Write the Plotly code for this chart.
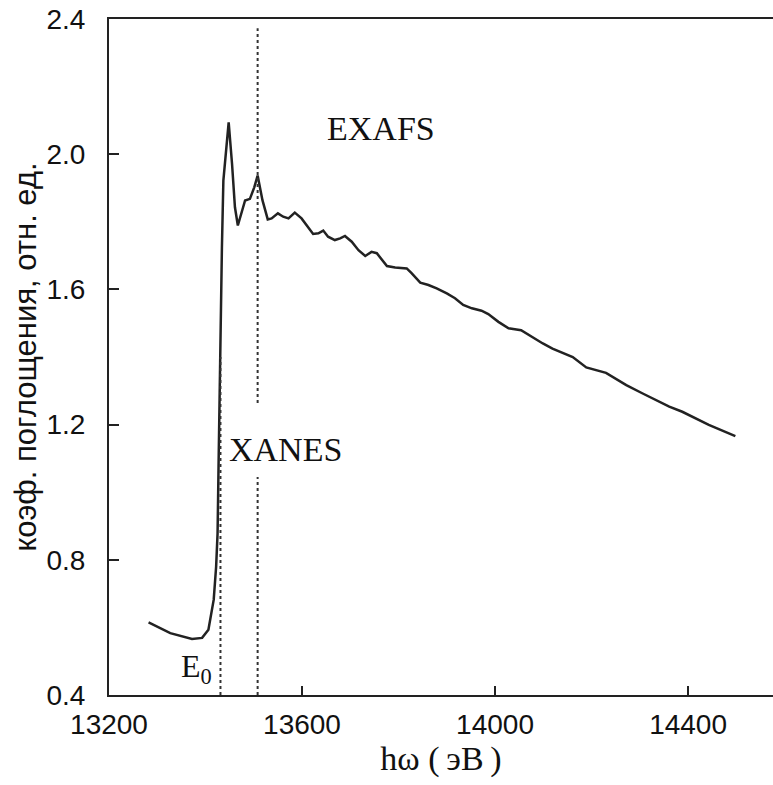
import plotly.graph_objects as go

# Absorption spectrum (energy in eV, absorption coefficient in rel. units)
energy = [13282, 13327, 13372, 13393, 13406, 13417, 13422, 13425, 13427, 13429,
          13430, 13434, 13437, 13443, 13448, 13455, 13461, 13467, 13475, 13482,
          13492, 13501, 13508, 13518, 13529, 13537, 13550, 13561, 13572, 13585,
          13599, 13610, 13623, 13634, 13644, 13654, 13668, 13679, 13689, 13703,
          13717, 13731, 13744, 13755, 13776, 13793, 13817, 13827, 13845, 13862,
          13879, 13900, 13917, 13934, 13952, 13972, 13986, 14007, 14028, 14041,
          14054, 14099, 14119, 14161, 14189, 14230, 14272, 14306, 14361, 14388,
          14443, 14498]
absorption = [0.615, 0.583, 0.566, 0.569, 0.593, 0.682, 0.780, 0.879, 1.075, 1.272,
              1.479, 1.725, 1.922, 2.020, 2.094, 1.971, 1.843, 1.789, 1.833, 1.863,
              1.868, 1.902, 1.937, 1.864, 1.807, 1.810, 1.825, 1.815, 1.810, 1.827,
              1.810, 1.790, 1.764, 1.766, 1.774, 1.756, 1.746, 1.751, 1.758, 1.741,
              1.716, 1.699, 1.711, 1.707, 1.669, 1.665, 1.662, 1.648, 1.620, 1.613,
              1.603, 1.588, 1.574, 1.554, 1.544, 1.537, 1.527, 1.504, 1.485, 1.482,
              1.479, 1.440, 1.425, 1.400, 1.369, 1.353, 1.317, 1.292, 1.253, 1.238,
              1.199, 1.166]

# Dotted marker lines
e0_x = [13431, 13431]
e0_y = [0.40, 1.40]
xanes_x = [13508, 13508]
xanes_low_y = [0.40, 1.045]
xanes_high_y = [1.264, 2.373]

x_ticks = [13200, 13600, 14000, 14400]
y_ticks = [0.4, 0.8, 1.2, 1.6, 2.0, 2.4]
x_range = [13200, 14576]
y_range = [0.4, 2.4]

fig = go.Figure()
fig.add_trace(go.Scatter(x=energy, y=absorption, mode="lines",
                         line=dict(color="#222222", width=2.5), showlegend=False))
dot = dict(color="#333333", width=2, dash="dot")
fig.add_trace(go.Scatter(x=e0_x, y=e0_y, mode="lines", line=dot, showlegend=False))
fig.add_trace(go.Scatter(x=xanes_x, y=xanes_low_y, mode="lines", line=dot, showlegend=False))
fig.add_trace(go.Scatter(x=xanes_x, y=xanes_high_y, mode="lines", line=dot, showlegend=False))

serif = "Liberation Serif, Times New Roman, serif"
sans = "Liberation Sans, Arial, sans-serif"

fig.update_layout(
    width=773, height=785,
    margin=dict(l=109, r=0, t=19, b=90, autoexpand=False),
    paper_bgcolor="white", plot_bgcolor="white",
    xaxis=dict(range=x_range, tickvals=x_ticks, ticktext=[str(v) for v in x_ticks],
               ticks="inside", ticklen=9, tickwidth=1.5, tickcolor="#222",
               showline=True, linecolor="#222", linewidth=2, mirror=True,
               showgrid=False, zeroline=False,
               tickfont=dict(family=sans, size=28, color="#111"),
               ticklabelstandoff=3,
               title=dict(text="hω (\u2009эВ\u2009)", font=dict(family=serif, size=34, color="#111"),
                          standoff=4)),
    yaxis=dict(range=y_range, tickvals=y_ticks, ticktext=["%.1f" % v for v in y_ticks],
               ticks="inside", ticklen=10, tickwidth=1.5, tickcolor="#222",
               showline=True, linecolor="#222", linewidth=2, mirror=False,
               showgrid=False, zeroline=False,
               tickfont=dict(family=sans, size=28, color="#111"),
               ticklabelstandoff=16,
               title=dict(text="коэф. поглощения, отн. ед.", font=dict(family=sans, size=31, color="#111"),
                          standoff=1)),
    annotations=[
        dict(x=13764, y=2.077, text="EXAFS", showarrow=False,
             font=dict(family=serif, size=34, color="#111")),
        dict(x=13566, y=1.125, text="XANES", showarrow=False,
             font=dict(family=serif, size=34, color="#111")),
        dict(x=13417, y=0.477, text="E<sub>0</sub>", showarrow=False, xanchor="right",
             font=dict(family=serif, size=32, color="#111")),
    ],
)

fig.write_html("out.html")
